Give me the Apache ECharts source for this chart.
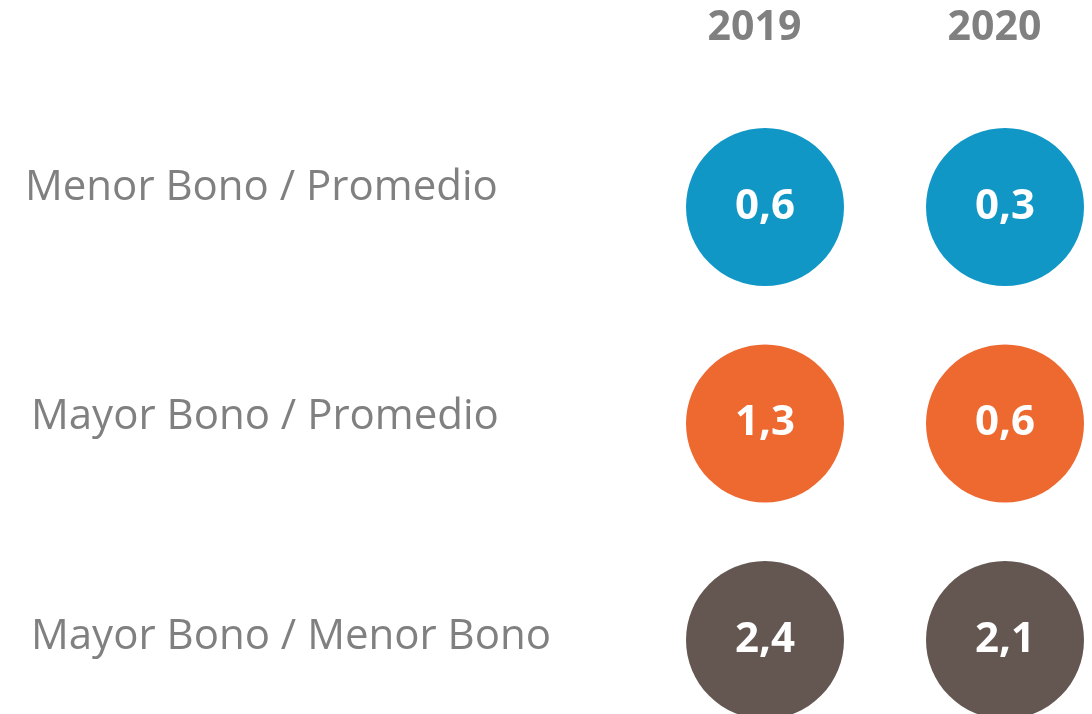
<!DOCTYPE html>
<html>
<head>
<meta charset="utf-8">
<script src="https://cdn.jsdelivr.net/npm/echarts@6/dist/echarts.min.js"></script>
<style>
  html, body { margin: 0; padding: 0; background: #fff; }
  #main { width: 1092px; height: 714px; }
</style>
</head>
<body>
<div id="main"></div>
<script>
// datos
var years = ['2019', '2020'];
var rows = ['Menor Bono / Promedio', 'Mayor Bono / Promedio', 'Mayor Bono / Menor Bono'];
var values2019 = [0.6, 1.3, 2.4];
var values2020 = [0.3, 0.6, 2.1];
var rowColors = ['#1097c6', '#ee6930', '#645752'];

var allValues = [values2019, values2020];

// pequeños ajustes de posición de las etiquetas de fila [arriba, derecha, abajo, izquierda]
var rowPadding = [[0, 0, 38, 0], [0, 0, 12, 6], [0, 0, 6, 6]];

var rowRich = {};
rowPadding.forEach(function (p, r) {
    rowRich['r' + r] = {
        padding: p,
        color: '#808080',
        fontFamily: 'Open Sans',
        fontSize: 42
    };
});

// una serie por fila, para que cada una tenga su color
var series = rows.map(function (row, r) {
    return {
        name: row,
        type: 'scatter',
        symbolSize: 158,
        itemStyle: { color: rowColors[r], opacity: 1 },
        label: {
            show: true,
            position: 'inside',
            color: '#fff',
            fontFamily: 'Open Sans',
            fontWeight: 'bold',
            fontSize: 42,
            padding: [0, 0, 6, 0],
            formatter: function (p) {
                return p.value[2].toFixed(1).replace('.', ',');
            }
        },
        emphasis: { disabled: true },
        data: years.map(function (y, i) {
            return [i, r, allValues[i][r]];
        })
    };
});

var myChart = echarts.init(document.getElementById('main'));
myChart.setOption({
    animation: false,
    grid: { left: 765, top: 207, width: 240, height: 433, outerBoundsMode: 'none', containLabel: false },
    xAxis: {
        type: 'category',
        data: years,
        position: 'top',
        boundaryGap: false,
        axisLine: { show: false },
        axisTick: { show: false },
        splitLine: { show: false },
        axisLabel: {
            margin: 179,
            verticalAlign: 'middle',
            padding: [0, 21, 0, 0],
            color: '#808080',
            fontFamily: 'Open Sans',
            fontWeight: 'bold',
            fontSize: 41
        }
    },
    yAxis: {
        type: 'category',
        data: rows,
        inverse: true,
        boundaryGap: false,
        axisLine: { show: false },
        axisTick: { show: false },
        splitLine: { show: false },
        axisLabel: {
            margin: 740,
            align: 'left',
            verticalAlign: 'middle',
            color: '#808080',
            fontFamily: 'Open Sans',
            fontSize: 42,
            formatter: function (value, index) {
                return '{r' + index + '|' + value + '}';
            },
            rich: rowRich
        }
    },
    series: series
});
</script>
</body>
</html>
